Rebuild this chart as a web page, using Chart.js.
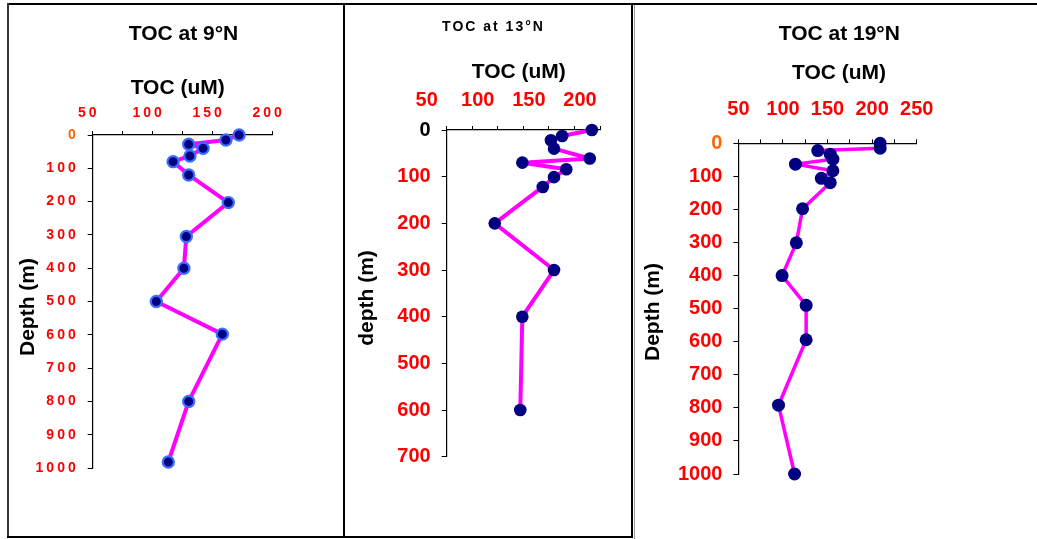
<!DOCTYPE html>
<html>
<head>
<meta charset="utf-8">
<script src="https://cdn.jsdelivr.net/npm/chart.js@4.4.1/dist/chart.umd.min.js"></script>
<style>
  body { margin: 0; background: #fff; width: 1037px; height: 539px; position: relative; overflow: hidden; }
  canvas { position: absolute; }
  .ln { position: absolute; background: #000; }
</style>
</head>
<body>
<div class="ln" style="left:8px;top:3px;width:1029px;height:2px"></div>
<div class="ln" style="left:7px;top:3px;width:2px;height:535px;background:#333"></div>
<div class="ln" style="left:343px;top:3px;width:2px;height:535px"></div>
<div class="ln" style="left:631px;top:3px;width:2px;height:535px"></div>
<div class="ln" style="left:634px;top:5px;width:1px;height:534px;background:#999"></div>
<div class="ln" style="left:7px;top:536px;width:626px;height:2px"></div>

<canvas id="c9" width="333" height="529" style="left:10px;top:6px"></canvas>
<canvas id="c13" width="284" height="530" style="left:347px;top:6px"></canvas>
<canvas id="c19" width="402" height="533" style="left:635px;top:6px"></canvas>

<script>
// ---------------- data ----------------
const depth9 = [0, 15, 28, 40, 63, 80, 120, 203, 305, 400, 500, 598, 800, 982];
const toc9   = [172, 161, 130, 142, 131, 117, 130, 163, 128, 126, 103, 158, 130, 113];

const depth13 = [0, 13, 22, 40, 61, 70, 84, 101, 122, 200, 300, 400, 600];
const toc13   = [192, 163, 152, 155, 190, 124, 167, 155, 144, 97, 155, 124, 122];

const depth19 = [0, 15, 22, 33, 48, 63, 83, 106, 119, 198, 301, 400, 490, 594, 792, 1000];
const toc19   = [209, 209, 139, 153, 156, 114, 156, 143, 153, 122, 115, 99, 126, 126, 95, 113];

const FAM = 'Arial, "Liberation Sans", sans-serif';
const RED = '#FF0000';
const ORANGE = '#FF6600';

// draws titles, and letter spacing for tick labels of the first panel
const panelText = {
    id: 'panelText',
    beforeDraw(chart, args, opts) {
        chart.ctx.letterSpacing = opts.tickSpacing || '0px';
    },
    beforeDatasetsDraw(chart) {
        chart.ctx.letterSpacing = '0px';
    },
    afterDraw(chart, args, opts) {
        const ctx = chart.ctx;
        ctx.save();
        ctx.fillStyle = '#000';
        ctx.textAlign = 'center';
        ctx.textBaseline = 'middle';
        opts.texts.forEach(t => {
            ctx.save();
            ctx.font = t.font;
            ctx.letterSpacing = t.spacing || '0px';
            ctx.translate(t.x, t.y);
            ctx.rotate(t.rot || 0);
            ctx.fillText(t.text, 0, 0);
            ctx.restore();
        });
        ctx.restore();
    },
};

function makePanel(id, xs, ys, p) {
    const pts = xs.map((x, i) => ({ x: x, y: ys[i] }));
    return new Chart(document.getElementById(id), {
        type: 'scatter',
        data: {
            datasets: [{
                data: pts,
                showLine: true,
                clip: false,
                borderColor: '#FF00FF',
                borderWidth: p.lineWidth,
                borderJoinStyle: 'round',
                borderCapStyle: 'round',
                pointRadius: p.radius,
                pointHoverRadius: p.radius,
                pointBackgroundColor: '#000080',
                pointBorderColor: p.ring,
                pointBorderWidth: p.ringWidth,
            }],
        },
        options: {
            responsive: false,
            animation: false,
            events: [],
            layout: { padding: { left: 0, top: 0, right: p.padRight, bottom: p.padBottom } },
            plugins: {
                legend: { display: false },
                tooltip: { enabled: false },
                panelText: { texts: p.texts, tickSpacing: p.tickSpacing },
            },
            scales: {
                x: {
                    type: 'linear',
                    position: 'top',
                    min: 50,
                    max: p.xMax,
                    afterFit(s) { s.height = p.xHeight; },
                    border: { display: true, color: '#000', width: 1.2 },
                    grid: { display: true, drawOnChartArea: false, drawTicks: true, tickLength: 4, color: '#000', lineWidth: 1 },
                    ticks: {
                        stepSize: 25,
                        autoSkip: false,
                        maxRotation: 0,
                        padding: p.xPad,
                        labelOffset: p.xLabelOffset,
                        color: RED,
                        font: { family: FAM, size: p.tickSize, weight: 'bold' },
                        callback: v => (v % 50 === 0 ? String(v) : ''),
                    },
                },
                y: {
                    type: 'linear',
                    reverse: true,
                    min: 0,
                    max: p.yMax,
                    afterFit(s) { s.width = p.yWidth; },
                    border: { display: true, color: '#000', width: 1.2 },
                    grid: { display: true, drawOnChartArea: false, drawTicks: true, tickLength: 5, color: '#000', lineWidth: 1 },
                    ticks: {
                        stepSize: 100,
                        autoSkip: false,
                        padding: p.yPad,
                        color: c => (c.tick && c.tick.value === 0 ? p.zeroColor : RED),
                        font: { family: FAM, size: p.tickSize, weight: 'bold' },
                        callback: v => String(v),
                    },
                },
            },
        },
        plugins: [panelText],
    });
}

// ---------------- TOC at 9°N ----------------
makePanel('c9', toc9, depth9, {
    lineWidth: 4, radius: 5.6, ring: '#3A6EFF', ringWidth: 2.2,
    padRight: 70.3, padBottom: 67, xHeight: 129, yWidth: 82.7,
    xMax: 200, yMax: 1000, xPad: 9, yPad: 9, xLabelOffset: -4,
    tickSize: 14, tickSpacing: '3px', zeroColor: ORANGE,
    texts: [
        { text: 'TOC at 9°N', x: 173.5, y: 28.5, font: 'bold 21px ' + FAM },
        { text: 'TOC (uM)', x: 167.7, y: 82.5, font: 'bold 21px ' + FAM },
        { text: 'Depth (m)', x: 18, y: 301, rot: -Math.PI / 2, font: 'bold 21px ' + FAM },
    ],
});

// ---------------- TOC at 13°N ----------------
makePanel('c13', toc13, depth13, {
    lineWidth: 4, radius: 6.3, ring: '#000080', ringWidth: 0,
    padRight: 31, padBottom: 79.3, xHeight: 124, yWidth: 99.7,
    xMax: 200, yMax: 700, xPad: 14, yPad: 11, xLabelOffset: -20,
    tickSize: 20, tickSpacing: '0px', zeroColor: '#000',
    texts: [
        { text: 'TOC at 13°N', x: 146.5, y: 20.7, font: 'bold 14px ' + FAM, spacing: '2px' },
        { text: 'TOC (uM)', x: 171.8, y: 66, font: 'bold 21px ' + FAM },
        { text: 'depth (m)', x: 20, y: 292, rot: -Math.PI / 2, font: 'bold 21px ' + FAM },
    ],
});

// ---------------- TOC at 19°N ----------------
makePanel('c19', toc19, depth19, {
    lineWidth: 3.5, radius: 6.5, ring: '#000080', ringWidth: 0,
    padRight: 120.3, padBottom: 65, xHeight: 137.3, yWidth: 103.4,
    xMax: 250, yMax: 1000, xPad: 18, yPad: 11, xLabelOffset: 0,
    tickSize: 20, tickSpacing: '0px', zeroColor: ORANGE,
    texts: [
        { text: 'TOC at 19°N', x: 204.3, y: 28.5, font: 'bold 21px ' + FAM },
        { text: 'TOC (uM)', x: 204, y: 67, font: 'bold 21px ' + FAM },
        { text: 'Depth (m)', x: 18, y: 306, rot: -Math.PI / 2, font: 'bold 21px ' + FAM },
    ],
});
</script>
</body>
</html>
